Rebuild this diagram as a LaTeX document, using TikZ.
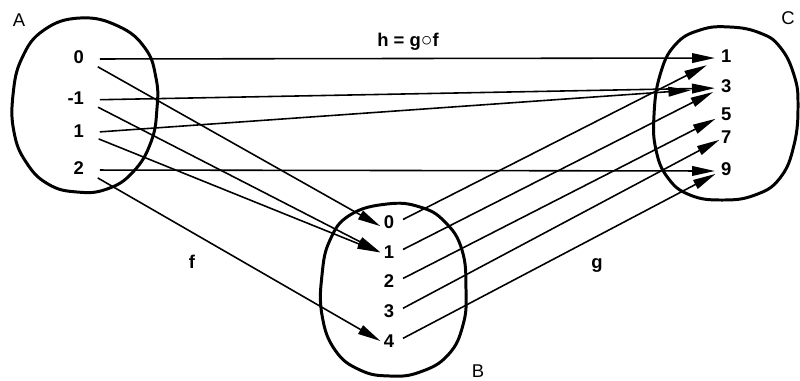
\documentclass[tikz,border=0pt]{standalone}
\usepackage{fontspec}
\setmainfont{Liberation Sans}
\usetikzlibrary{arrows.meta}
\begin{document}
\begin{tikzpicture}[x=0.02cm,y=-0.02cm,
  num/.style={font=\fontsize{10.5}{12}\selectfont\bfseries, inner xsep=0pt, inner ysep=0pt, outer sep=0pt, text height=7.5pt, text depth=2.8pt},
  lab/.style={font=\fontsize{10.5}{12}\selectfont, inner sep=0pt},
  blab/.style={font=\fontsize{10.5}{12}\selectfont\bfseries, inner sep=0pt},
  setline/.style={line width=1.7pt, line join=round},
  arr/.style={line width=0.9pt, -{Triangle[length=13pt,width=5.5pt]}},
  fromA/.style={shorten <=9pt},
  fromB/.style={shorten <=5.7pt},
  toC/.style={shorten >=3.5pt},
  toB/.style={shorten >=2.3pt}
]
\useasboundingbox (0,0) rectangle (800,380);

% set outlines
\draw[setline] plot[smooth cycle, tension=0.75] coordinates {(80,18) (118,26) (145,48) (156,78) (157,108) (151,142) (133,172) (107,189) (77,192) (48,184) (26,162) (14,132) (13,95) (22,58) (44,30)};
\draw[setline] plot[smooth cycle, tension=0.75] coordinates {(387,204) (420,207) (445,222) (462,250) (466,290) (463,325) (448,355) (420,372) (390,376) (360,370) (335,350) (322,315) (322,275) (330,240) (350,215)};
\draw[setline] plot[smooth cycle, tension=0.75] coordinates {(730,27) (760,33) (780,47) (794,75) (798,105) (794,145) (780,178) (755,195) (722,200) (690,195) (668,178) (656,150) (654,115) (660,75) (675,45) (700,30)};

% set labels
\node[lab] (labA) at (19,20) {A};
\node[lab] (labB) at (478,371) {B};
\node[lab] (labC) at (788,18) {C};

% elements of A
\node[num, anchor=east] (a0)  at (84,59)  {0};
\node[num, anchor=east] (am1) at (84,100) {-1};
\node[num, anchor=east] (a1)  at (84,133) {1};
\node[num, anchor=east] (a2)  at (84,170) {2};

% elements of B
\node[num] (b0) at (389,224) {0};
\node[num] (b1) at (389,254) {1};
\node[num] (b2) at (389,283) {2};
\node[num] (b3) at (389,313) {3};
\node[num] (b4) at (389,343) {4};

% elements of C
\node[num, anchor=west] (c1) at (721,58)  {1};
\node[num, anchor=west] (c3) at (721,88)  {3};
\node[num, anchor=west] (c5) at (721,116) {5};
\node[num, anchor=west] (c7) at (721,139) {7};
\node[num, anchor=west] (c9) at (721,171) {9};

% function labels
\node[blab] (lf) at (192,262) {f};
\node[blab] (lg) at (597,265) {g};
\node[blab] (lh) at (408,42) {h = g{\mdseries\fontsize{11}{11}\selectfont ○}f};

% h = g o f
\draw[arr, fromA, toC] (a0.east) -- (c1.west);
\draw[arr, fromA, toC] (am1.east) -- (c3.west);
\draw[arr, fromA, shorten >=17pt] (a1.east) -- (c3.west);
\draw[arr, fromA, toC] (a2.east) -- (c9.west);

% f
\draw[arr, fromA, toB] (a0.east) -- (b0.base west);
\draw[arr, fromA, toB] (am1.east) -- (b1.west);
\draw[arr, fromA, toB] (a1.east) -- (b1.west);
\draw[arr, fromA, toB] (a2.east) -- (b4.west);

% g
\draw[arr, fromB, shorten >=9pt] (b0.east) -- (c1.west);
\draw[arr, fromB, shorten >=5pt] (b1.east) -- (c3.west);
\draw[arr, fromB, toC] (b2.east) -- (c5.west);
\draw[arr, fromB, shorten >=1pt] (b3.east) -- (c7.west);
\draw[arr, fromB, toC] (b4.east) -- (c9.west);
\end{tikzpicture}
\end{document}
